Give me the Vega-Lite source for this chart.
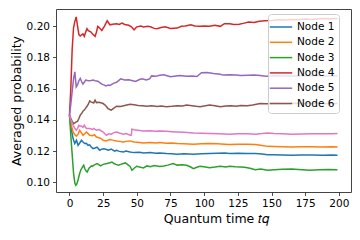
{
"$schema": "https://vega.github.io/schema/vega-lite/v6.json",
"autosize": "none",
"width": 295, "height": 183,
"padding": {"left": 56, "top": 9, "right": 9, "bottom": 48},
"config": {"font": "DejaVu Sans", "view": {"stroke": "#444", "strokeWidth": 1},
 "axis": {"grid": false, "domain": false, "tickColor": "#222", "tickSize": 3.5, "tickWidth": 0.8, "labelColor": "#000", "labelFontSize": 10.5, "labelPadding": 3, "titleFontSize": 12.5, "titleFontWeight": "normal", "titleColor": "#000"}},
"data": {"values": [
{"s":"Node 1","x":0,"y":0.1429},{"s":"Node 1","x":1,"y":0.137},{"s":"Node 1","x":2,"y":0.131},{"s":"Node 1","x":2.7,"y":0.128},{"s":"Node 1","x":3.9,"y":0.1248},{"s":"Node 1","x":5.2,"y":0.1269},{"s":"Node 1","x":6.4,"y":0.1237},{"s":"Node 1","x":7.5,"y":0.125},{"s":"Node 1","x":8.9,"y":0.1269},{"s":"Node 1","x":10,"y":0.1258},{"s":"Node 1","x":11.3,"y":0.1248},{"s":"Node 1","x":12.5,"y":0.125},{"s":"Node 1","x":13.8,"y":0.1237},{"s":"Node 1","x":15,"y":0.124},{"s":"Node 1","x":16,"y":0.1228},{"s":"Node 1","x":17.5,"y":0.1216},{"s":"Node 1","x":19,"y":0.122},{"s":"Node 1","x":20.5,"y":0.1225},{"s":"Node 1","x":22.5,"y":0.1205},{"s":"Node 1","x":24,"y":0.1212},{"s":"Node 1","x":25.5,"y":0.1215},{"s":"Node 1","x":27.4,"y":0.121},{"s":"Node 1","x":29,"y":0.1205},{"s":"Node 1","x":31,"y":0.1212},{"s":"Node 1","x":33.6,"y":0.12},{"s":"Node 1","x":35,"y":0.1205},{"s":"Node 1","x":37,"y":0.1198},{"s":"Node 1","x":40,"y":0.1194},{"s":"Node 1","x":42,"y":0.12},{"s":"Node 1","x":45,"y":0.1194},{"s":"Node 1","x":48,"y":0.119},{"s":"Node 1","x":52,"y":0.1192},{"s":"Node 1","x":55,"y":0.1188},{"s":"Node 1","x":60,"y":0.119},{"s":"Node 1","x":64,"y":0.1186},{"s":"Node 1","x":67,"y":0.1188},{"s":"Node 1","x":72,"y":0.1184},{"s":"Node 1","x":76,"y":0.1183},{"s":"Node 1","x":80,"y":0.118},{"s":"Node 1","x":85,"y":0.1182},{"s":"Node 1","x":92,"y":0.118},{"s":"Node 1","x":98,"y":0.1182},{"s":"Node 1","x":104,"y":0.1184},{"s":"Node 1","x":110,"y":0.1186},{"s":"Node 1","x":115,"y":0.1188},{"s":"Node 1","x":119,"y":0.1184},{"s":"Node 1","x":125,"y":0.1186},{"s":"Node 1","x":132,"y":0.1185},{"s":"Node 1","x":138,"y":0.1184},{"s":"Node 1","x":143,"y":0.1181},{"s":"Node 1","x":147,"y":0.1177},{"s":"Node 1","x":152,"y":0.1176},{"s":"Node 1","x":158,"y":0.1175},{"s":"Node 1","x":165,"y":0.1173},{"s":"Node 1","x":172,"y":0.1174},{"s":"Node 1","x":180,"y":0.1175},{"s":"Node 1","x":188,"y":0.1173},{"s":"Node 1","x":195,"y":0.1174},{"s":"Node 1","x":199,"y":0.1173},
{"s":"Node 2","x":0,"y":0.1429},{"s":"Node 2","x":1,"y":0.138},{"s":"Node 2","x":2,"y":0.1345},{"s":"Node 2","x":2.7,"y":0.1322},{"s":"Node 2","x":4,"y":0.1305},{"s":"Node 2","x":5.2,"y":0.1295},{"s":"Node 2","x":6.5,"y":0.131},{"s":"Node 2","x":7.6,"y":0.1333},{"s":"Node 2","x":9,"y":0.1315},{"s":"Node 2","x":10.1,"y":0.1301},{"s":"Node 2","x":11.5,"y":0.1312},{"s":"Node 2","x":12.6,"y":0.1322},{"s":"Node 2","x":14,"y":0.131},{"s":"Node 2","x":15,"y":0.1301},{"s":"Node 2","x":17,"y":0.1298},{"s":"Node 2","x":18.5,"y":0.1305},{"s":"Node 2","x":20,"y":0.129},{"s":"Node 2","x":22,"y":0.1285},{"s":"Node 2","x":23.5,"y":0.128},{"s":"Node 2","x":25,"y":0.1269},{"s":"Node 2","x":27,"y":0.1265},{"s":"Node 2","x":30,"y":0.1274},{"s":"Node 2","x":32,"y":0.127},{"s":"Node 2","x":34.8,"y":0.1265},{"s":"Node 2","x":37,"y":0.1262},{"s":"Node 2","x":40,"y":0.1258},{"s":"Node 2","x":42,"y":0.1262},{"s":"Node 2","x":45,"y":0.1265},{"s":"Node 2","x":48,"y":0.1258},{"s":"Node 2","x":52,"y":0.1255},{"s":"Node 2","x":55,"y":0.1252},{"s":"Node 2","x":60,"y":0.1255},{"s":"Node 2","x":64,"y":0.1252},{"s":"Node 2","x":67,"y":0.1254},{"s":"Node 2","x":72,"y":0.125},{"s":"Node 2","x":76,"y":0.1252},{"s":"Node 2","x":80,"y":0.1248},{"s":"Node 2","x":85,"y":0.1246},{"s":"Node 2","x":92,"y":0.1244},{"s":"Node 2","x":98,"y":0.1247},{"s":"Node 2","x":104,"y":0.1248},{"s":"Node 2","x":110,"y":0.1246},{"s":"Node 2","x":115,"y":0.1244},{"s":"Node 2","x":119,"y":0.1242},{"s":"Node 2","x":125,"y":0.1244},{"s":"Node 2","x":132,"y":0.1243},{"s":"Node 2","x":138,"y":0.1242},{"s":"Node 2","x":143,"y":0.1236},{"s":"Node 2","x":147,"y":0.123},{"s":"Node 2","x":152,"y":0.1229},{"s":"Node 2","x":158,"y":0.1228},{"s":"Node 2","x":165,"y":0.1226},{"s":"Node 2","x":172,"y":0.1227},{"s":"Node 2","x":180,"y":0.1228},{"s":"Node 2","x":188,"y":0.1226},{"s":"Node 2","x":195,"y":0.1227},{"s":"Node 2","x":199,"y":0.1226},
{"s":"Node 3","x":0,"y":0.1429},{"s":"Node 3","x":1,"y":0.13},{"s":"Node 3","x":2,"y":0.118},{"s":"Node 3","x":3,"y":0.106},{"s":"Node 3","x":4,"y":0.0995},{"s":"Node 3","x":4.7,"y":0.0981},{"s":"Node 3","x":5.5,"y":0.099},{"s":"Node 3","x":6.5,"y":0.102},{"s":"Node 3","x":7.5,"y":0.1055},{"s":"Node 3","x":8.5,"y":0.108},{"s":"Node 3","x":9.5,"y":0.1095},{"s":"Node 3","x":10.6,"y":0.1109},{"s":"Node 3","x":11.5,"y":0.1085},{"s":"Node 3","x":12.5,"y":0.107},{"s":"Node 3","x":13.1,"y":0.1066},{"s":"Node 3","x":14.5,"y":0.109},{"s":"Node 3","x":16.3,"y":0.1105},{"s":"Node 3","x":17,"y":0.1102},{"s":"Node 3","x":18.5,"y":0.1112},{"s":"Node 3","x":20.5,"y":0.112},{"s":"Node 3","x":22,"y":0.1112},{"s":"Node 3","x":23,"y":0.1105},{"s":"Node 3","x":25,"y":0.1115},{"s":"Node 3","x":27.9,"y":0.112},{"s":"Node 3","x":30,"y":0.1125},{"s":"Node 3","x":31.6,"y":0.113},{"s":"Node 3","x":33,"y":0.112},{"s":"Node 3","x":34.5,"y":0.1115},{"s":"Node 3","x":36.5,"y":0.1109},{"s":"Node 3","x":38,"y":0.1115},{"s":"Node 3","x":40,"y":0.112},{"s":"Node 3","x":41.5,"y":0.1124},{"s":"Node 3","x":43,"y":0.1115},{"s":"Node 3","x":45,"y":0.1102},{"s":"Node 3","x":46.4,"y":0.1077},{"s":"Node 3","x":48,"y":0.109},{"s":"Node 3","x":50,"y":0.1103},{"s":"Node 3","x":52,"y":0.1098},{"s":"Node 3","x":55,"y":0.1092},{"s":"Node 3","x":57.5,"y":0.1105},{"s":"Node 3","x":60,"y":0.11},{"s":"Node 3","x":63,"y":0.1108},{"s":"Node 3","x":67,"y":0.1102},{"s":"Node 3","x":70,"y":0.1105},{"s":"Node 3","x":73,"y":0.111},{"s":"Node 3","x":77,"y":0.112},{"s":"Node 3","x":80,"y":0.111},{"s":"Node 3","x":84,"y":0.1112},{"s":"Node 3","x":87,"y":0.1109},{"s":"Node 3","x":90,"y":0.1098},{"s":"Node 3","x":92,"y":0.1087},{"s":"Node 3","x":95,"y":0.1098},{"s":"Node 3","x":97,"y":0.1103},{"s":"Node 3","x":101,"y":0.1098},{"s":"Node 3","x":104,"y":0.1094},{"s":"Node 3","x":108,"y":0.1098},{"s":"Node 3","x":112,"y":0.1103},{"s":"Node 3","x":116,"y":0.1098},{"s":"Node 3","x":119,"y":0.1103},{"s":"Node 3","x":123,"y":0.11},{"s":"Node 3","x":127,"y":0.1098},{"s":"Node 3","x":130,"y":0.1097},{"s":"Node 3","x":134,"y":0.109},{"s":"Node 3","x":138,"y":0.1081},{"s":"Node 3","x":142,"y":0.1085},{"s":"Node 3","x":147,"y":0.1077},{"s":"Node 3","x":152,"y":0.108},{"s":"Node 3","x":158,"y":0.1084},{"s":"Node 3","x":165,"y":0.1085},{"s":"Node 3","x":170,"y":0.1082},{"s":"Node 3","x":178.5,"y":0.1077},{"s":"Node 3","x":185,"y":0.108},{"s":"Node 3","x":192,"y":0.1082},{"s":"Node 3","x":199,"y":0.1081},
{"s":"Node 4","x":0,"y":0.1429},{"s":"Node 4","x":1,"y":0.16},{"s":"Node 4","x":2,"y":0.185},{"s":"Node 4","x":3,"y":0.1987},{"s":"Node 4","x":4,"y":0.203},{"s":"Node 4","x":5,"y":0.2058},{"s":"Node 4","x":6,"y":0.2},{"s":"Node 4","x":7,"y":0.1945},{"s":"Node 4","x":8,"y":0.1936},{"s":"Node 4","x":9,"y":0.1944},{"s":"Node 4","x":10,"y":0.195},{"s":"Node 4","x":11,"y":0.1934},{"s":"Node 4","x":12,"y":0.196},{"s":"Node 4","x":13,"y":0.1983},{"s":"Node 4","x":14,"y":0.197},{"s":"Node 4","x":16,"y":0.1962},{"s":"Node 4","x":17,"y":0.195},{"s":"Node 4","x":19,"y":0.1934},{"s":"Node 4","x":20,"y":0.196},{"s":"Node 4","x":21,"y":0.1998},{"s":"Node 4","x":22,"y":0.199},{"s":"Node 4","x":24,"y":0.1972},{"s":"Node 4","x":26,"y":0.2},{"s":"Node 4","x":28,"y":0.2034},{"s":"Node 4","x":30,"y":0.2008},{"s":"Node 4","x":32,"y":0.2012},{"s":"Node 4","x":35,"y":0.2015},{"s":"Node 4","x":37,"y":0.201},{"s":"Node 4","x":39,"y":0.2019},{"s":"Node 4","x":41,"y":0.201},{"s":"Node 4","x":44,"y":0.2005},{"s":"Node 4","x":46,"y":0.1995},{"s":"Node 4","x":48,"y":0.1976},{"s":"Node 4","x":50,"y":0.1995},{"s":"Node 4","x":53,"y":0.2},{"s":"Node 4","x":55,"y":0.1994},{"s":"Node 4","x":58,"y":0.1998},{"s":"Node 4","x":60,"y":0.1995},{"s":"Node 4","x":63,"y":0.1985},{"s":"Node 4","x":65,"y":0.1983},{"s":"Node 4","x":68,"y":0.199},{"s":"Node 4","x":71,"y":0.1995},{"s":"Node 4","x":75,"y":0.1985},{"s":"Node 4","x":80,"y":0.1987},{"s":"Node 4","x":83,"y":0.1998},{"s":"Node 4","x":86,"y":0.2},{"s":"Node 4","x":90,"y":0.2008},{"s":"Node 4","x":93,"y":0.2},{"s":"Node 4","x":97,"y":0.1998},{"s":"Node 4","x":100,"y":0.2},{"s":"Node 4","x":104,"y":0.1998},{"s":"Node 4","x":108,"y":0.2005},{"s":"Node 4","x":112,"y":0.1998},{"s":"Node 4","x":115,"y":0.2015},{"s":"Node 4","x":119,"y":0.2015},{"s":"Node 4","x":122,"y":0.201},{"s":"Node 4","x":126,"y":0.2012},{"s":"Node 4","x":129,"y":0.2017},{"s":"Node 4","x":133,"y":0.2025},{"s":"Node 4","x":137,"y":0.2022},{"s":"Node 4","x":141,"y":0.203},{"s":"Node 4","x":145,"y":0.2034},{"s":"Node 4","x":150,"y":0.2035},{"s":"Node 4","x":155,"y":0.204},{"s":"Node 4","x":160,"y":0.2038},{"s":"Node 4","x":165,"y":0.2042},{"s":"Node 4","x":170,"y":0.204},{"s":"Node 4","x":175,"y":0.2045},{"s":"Node 4","x":180,"y":0.2042},{"s":"Node 4","x":185,"y":0.2046},{"s":"Node 4","x":190,"y":0.2048},{"s":"Node 4","x":195,"y":0.2046},{"s":"Node 4","x":199,"y":0.2048},
{"s":"Node 5","x":0,"y":0.1429},{"s":"Node 5","x":1,"y":0.15},{"s":"Node 5","x":2,"y":0.158},{"s":"Node 5","x":3,"y":0.166},{"s":"Node 5","x":4,"y":0.1707},{"s":"Node 5","x":5,"y":0.1611},{"s":"Node 5","x":6,"y":0.1625},{"s":"Node 5","x":7,"y":0.165},{"s":"Node 5","x":8,"y":0.1665},{"s":"Node 5","x":9,"y":0.1645},{"s":"Node 5","x":10,"y":0.1628},{"s":"Node 5","x":11,"y":0.164},{"s":"Node 5","x":12,"y":0.1654},{"s":"Node 5","x":14,"y":0.165},{"s":"Node 5","x":16,"y":0.1652},{"s":"Node 5","x":17.5,"y":0.1654},{"s":"Node 5","x":19,"y":0.165},{"s":"Node 5","x":21,"y":0.1647},{"s":"Node 5","x":23,"y":0.1635},{"s":"Node 5","x":24,"y":0.1628},{"s":"Node 5","x":26,"y":0.1622},{"s":"Node 5","x":27,"y":0.1617},{"s":"Node 5","x":29,"y":0.1622},{"s":"Node 5","x":30,"y":0.162},{"s":"Node 5","x":33,"y":0.1635},{"s":"Node 5","x":35,"y":0.164},{"s":"Node 5","x":38,"y":0.1662},{"s":"Node 5","x":41,"y":0.1655},{"s":"Node 5","x":44,"y":0.1656},{"s":"Node 5","x":47,"y":0.165},{"s":"Node 5","x":49,"y":0.1645},{"s":"Node 5","x":52,"y":0.1658},{"s":"Node 5","x":54,"y":0.1662},{"s":"Node 5","x":57,"y":0.1655},{"s":"Node 5","x":59.5,"y":0.1662},{"s":"Node 5","x":61,"y":0.1681},{"s":"Node 5","x":64,"y":0.1678},{"s":"Node 5","x":67,"y":0.1685},{"s":"Node 5","x":70,"y":0.1688},{"s":"Node 5","x":73,"y":0.168},{"s":"Node 5","x":75,"y":0.1675},{"s":"Node 5","x":79,"y":0.168},{"s":"Node 5","x":82,"y":0.1684},{"s":"Node 5","x":85,"y":0.1681},{"s":"Node 5","x":88,"y":0.1678},{"s":"Node 5","x":91,"y":0.168},{"s":"Node 5","x":94.6,"y":0.1677},{"s":"Node 5","x":98,"y":0.1701},{"s":"Node 5","x":102,"y":0.1703},{"s":"Node 5","x":107,"y":0.1697},{"s":"Node 5","x":112,"y":0.1692},{"s":"Node 5","x":114,"y":0.1686},{"s":"Node 5","x":119,"y":0.1688},{"s":"Node 5","x":124,"y":0.1686},{"s":"Node 5","x":127,"y":0.1684},{"s":"Node 5","x":133,"y":0.1685},{"s":"Node 5","x":137,"y":0.1686},{"s":"Node 5","x":141.5,"y":0.1684},{"s":"Node 5","x":146,"y":0.1679},{"s":"Node 5","x":152,"y":0.1682},{"s":"Node 5","x":160,"y":0.168},{"s":"Node 5","x":170,"y":0.1681},{"s":"Node 5","x":180,"y":0.1683},{"s":"Node 5","x":190,"y":0.168},{"s":"Node 5","x":199,"y":0.1682},
{"s":"Node 6","x":0,"y":0.1429},{"s":"Node 6","x":1,"y":0.141},{"s":"Node 6","x":2,"y":0.139},{"s":"Node 6","x":3,"y":0.1375},{"s":"Node 6","x":4,"y":0.138},{"s":"Node 6","x":5,"y":0.1387},{"s":"Node 6","x":6,"y":0.139},{"s":"Node 6","x":7,"y":0.1408},{"s":"Node 6","x":8,"y":0.143},{"s":"Node 6","x":9,"y":0.144},{"s":"Node 6","x":10,"y":0.1455},{"s":"Node 6","x":11,"y":0.1462},{"s":"Node 6","x":12,"y":0.1475},{"s":"Node 6","x":13,"y":0.1487},{"s":"Node 6","x":14,"y":0.15},{"s":"Node 6","x":15,"y":0.1521},{"s":"Node 6","x":16,"y":0.1515},{"s":"Node 6","x":18,"y":0.1508},{"s":"Node 6","x":19,"y":0.1526},{"s":"Node 6","x":20,"y":0.151},{"s":"Node 6","x":22,"y":0.1512},{"s":"Node 6","x":25,"y":0.1504},{"s":"Node 6","x":27,"y":0.149},{"s":"Node 6","x":28.6,"y":0.1472},{"s":"Node 6","x":30,"y":0.1466},{"s":"Node 6","x":31,"y":0.1462},{"s":"Node 6","x":33,"y":0.1475},{"s":"Node 6","x":35,"y":0.1487},{"s":"Node 6","x":38,"y":0.1485},{"s":"Node 6","x":41,"y":0.1492},{"s":"Node 6","x":45,"y":0.15},{"s":"Node 6","x":48,"y":0.1496},{"s":"Node 6","x":51,"y":0.1492},{"s":"Node 6","x":54,"y":0.149},{"s":"Node 6","x":57.5,"y":0.1487},{"s":"Node 6","x":61,"y":0.149},{"s":"Node 6","x":65,"y":0.1485},{"s":"Node 6","x":68,"y":0.1488},{"s":"Node 6","x":72,"y":0.1483},{"s":"Node 6","x":76,"y":0.1486},{"s":"Node 6","x":80,"y":0.149},{"s":"Node 6","x":84,"y":0.1488},{"s":"Node 6","x":87,"y":0.1494},{"s":"Node 6","x":91,"y":0.149},{"s":"Node 6","x":94,"y":0.1486},{"s":"Node 6","x":97,"y":0.1483},{"s":"Node 6","x":101,"y":0.149},{"s":"Node 6","x":104,"y":0.1494},{"s":"Node 6","x":108,"y":0.149},{"s":"Node 6","x":112,"y":0.1483},{"s":"Node 6","x":116,"y":0.1488},{"s":"Node 6","x":120,"y":0.149},{"s":"Node 6","x":124,"y":0.1487},{"s":"Node 6","x":127,"y":0.1492},{"s":"Node 6","x":132,"y":0.149},{"s":"Node 6","x":136,"y":0.1495},{"s":"Node 6","x":141.5,"y":0.1504},{"s":"Node 6","x":146,"y":0.1502},{"s":"Node 6","x":152,"y":0.1505},{"s":"Node 6","x":160,"y":0.1503},{"s":"Node 6","x":168,"y":0.1506},{"s":"Node 6","x":176,"y":0.1504},{"s":"Node 6","x":184,"y":0.1505},{"s":"Node 6","x":192,"y":0.1503},{"s":"Node 6","x":199,"y":0.1505},
{"s":"Node 7","x":0,"y":0.1429},{"s":"Node 7","x":1,"y":0.14},{"s":"Node 7","x":2,"y":0.138},{"s":"Node 7","x":2.7,"y":0.1365},{"s":"Node 7","x":4,"y":0.1345},{"s":"Node 7","x":5,"y":0.1333},{"s":"Node 7","x":6,"y":0.1345},{"s":"Node 7","x":7,"y":0.1365},{"s":"Node 7","x":8,"y":0.136},{"s":"Node 7","x":9,"y":0.1359},{"s":"Node 7","x":10,"y":0.1352},{"s":"Node 7","x":11,"y":0.1365},{"s":"Node 7","x":12,"y":0.135},{"s":"Node 7","x":13,"y":0.1345},{"s":"Node 7","x":15,"y":0.1344},{"s":"Node 7","x":17,"y":0.1338},{"s":"Node 7","x":18,"y":0.1345},{"s":"Node 7","x":20,"y":0.1333},{"s":"Node 7","x":22,"y":0.1338},{"s":"Node 7","x":25,"y":0.1322},{"s":"Node 7","x":27.4,"y":0.1301},{"s":"Node 7","x":29,"y":0.131},{"s":"Node 7","x":31,"y":0.1308},{"s":"Node 7","x":33,"y":0.1318},{"s":"Node 7","x":35,"y":0.1322},{"s":"Node 7","x":37,"y":0.1316},{"s":"Node 7","x":40,"y":0.1308},{"s":"Node 7","x":42,"y":0.1312},{"s":"Node 7","x":45,"y":0.1301},{"s":"Node 7","x":45.9,"y":0.1302},{"s":"Node 7","x":46.3,"y":0.134},{"s":"Node 7","x":48,"y":0.1336},{"s":"Node 7","x":52,"y":0.1332},{"s":"Node 7","x":55,"y":0.1329},{"s":"Node 7","x":60,"y":0.133},{"s":"Node 7","x":64,"y":0.1327},{"s":"Node 7","x":67,"y":0.1329},{"s":"Node 7","x":72,"y":0.1326},{"s":"Node 7","x":76,"y":0.1324},{"s":"Node 7","x":80,"y":0.1322},{"s":"Node 7","x":85,"y":0.132},{"s":"Node 7","x":92,"y":0.1316},{"s":"Node 7","x":98,"y":0.1314},{"s":"Node 7","x":104,"y":0.1312},{"s":"Node 7","x":111,"y":0.131},{"s":"Node 7","x":119,"y":0.1308},{"s":"Node 7","x":125,"y":0.1311},{"s":"Node 7","x":132,"y":0.131},{"s":"Node 7","x":138,"y":0.1308},{"s":"Node 7","x":143,"y":0.1312},{"s":"Node 7","x":147,"y":0.1316},{"s":"Node 7","x":152,"y":0.1312},{"s":"Node 7","x":158,"y":0.131},{"s":"Node 7","x":165,"y":0.1308},{"s":"Node 7","x":172,"y":0.1309},{"s":"Node 7","x":180,"y":0.131},{"s":"Node 7","x":188,"y":0.1311},{"s":"Node 7","x":195,"y":0.131},{"s":"Node 7","x":199,"y":0.1312}
]},
"mark": {"type": "line", "strokeWidth": 1.5, "clip": true},
"encoding": {
 "x": {"field": "x", "type": "quantitative", "scale": {"domain": [-10, 209], "nice": false, "zero": false},
   "axis": {"values": [0,25,50,75,100,125,150,175,200], "title": "Quantum time 𝑡𝑞", "titlePadding": 3, "titleX": 160}},
 "y": {"field": "y", "type": "quantitative", "scale": {"domain": [0.0938, 0.2109], "nice": false, "zero": false},
   "axis": {"values": [0.10,0.12,0.14,0.16,0.18,0.20], "format": ".2f", "title": "Averaged probability", "titlePadding": 3}},
 "color": {"field": "s", "type": "nominal",
   "scale": {"domain": ["Node 1","Node 2","Node 3","Node 4","Node 5","Node 6","Node 7"], "range": ["#1f77b4","#ff7f0e","#2ca02c","#d62728","#9467bd","#8c564b","#e377c2"]},
   "legend": {"values": ["Node 1","Node 2","Node 3","Node 4","Node 5","Node 6"], "title": null, "orient": "none", "legendX": 212, "legendY": 5,
     "symbolType": "M-1.4,0H1.4", "symbolSize": 256, "symbolStrokeWidth": 1.5, "labelFontSize": 10.5, "labelColor": "#000", "labelOffset": 7,
     "fillColor": "rgba(255,255,255,0.8)", "strokeColor": "#ccc", "cornerRadius": 3, "padding": 4, "rowPadding": 0.3}}
}
}
